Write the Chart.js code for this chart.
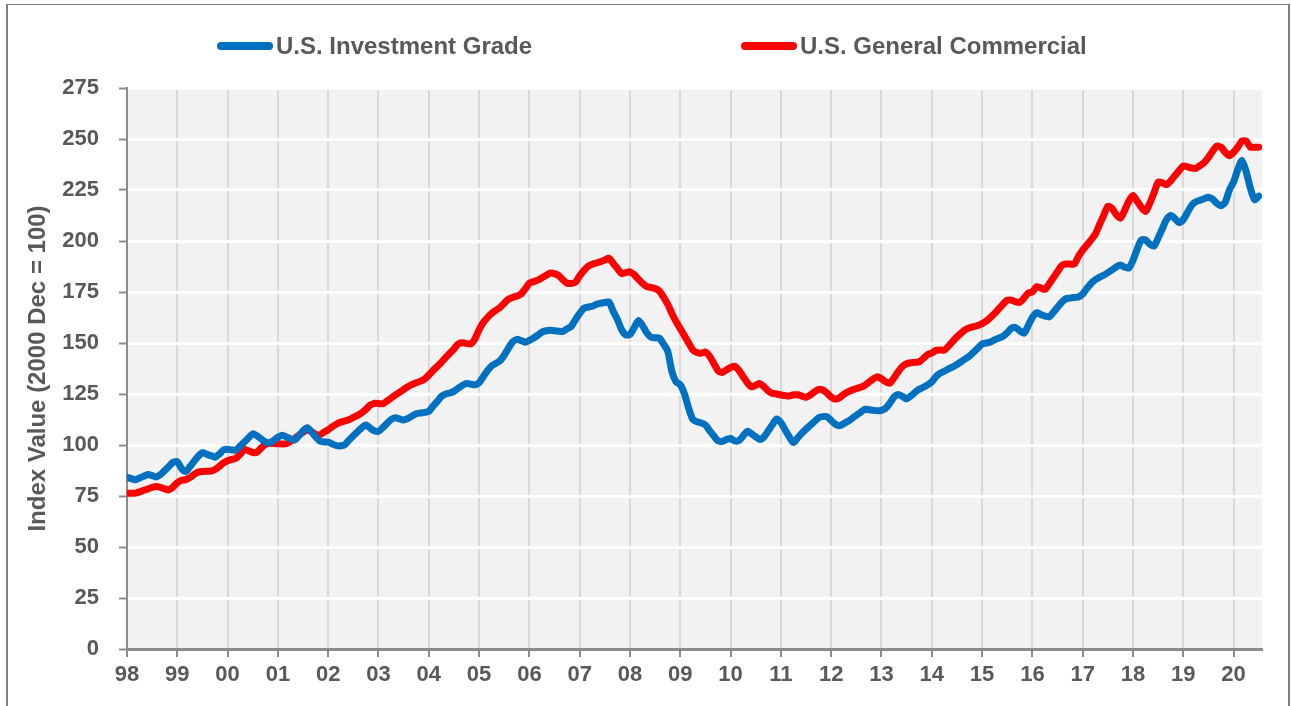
<!DOCTYPE html>
<html>
<head>
<meta charset="utf-8">
<script src="https://cdn.jsdelivr.net/npm/chart.js@4.4.1/dist/chart.umd.min.js"></script>
<style>
  html, body { margin: 0; padding: 0; background: #ffffff; }
  #wrap { position: relative; width: 1291px; height: 706px; overflow: hidden; }
  #frame { position: absolute; left: 6px; top: 4px; width: 1284px; height: 720px;
           border-left: 2px solid #7f7f7f; border-top: 1px solid #7f7f7f; border-right: 2px solid #7f7f7f; box-sizing: border-box; }
  canvas { position: absolute; left: 0; top: 0; }
</style>
</head>
<body>
<div id="wrap">
  <div id="frame"></div>
  <canvas id="c" width="1291" height="706"></canvas>
</div>
<script>
// Monthly index values, Jan 1998 .. Jul 2020
const startYear = 1998;
const seriesNames = ["U.S. Investment Grade", "U.S. General Commercial"];
const investmentGrade = [
  84.2, 83.5, 83.0, 83.8, 84.7, 85.5, 85.0, 84.3, 85.5, 87.5, 89.5, 91.5,
  91.8, 88.5, 87.0, 89.3, 92.0, 94.5, 96.2, 95.5, 94.8, 94.0, 95.5, 97.5,
  97.9, 97.6, 97.5, 99.5, 101.5, 103.5, 105.5, 104.5, 103.0, 101.5, 101.1, 102.3,
  103.8, 104.8, 104.0, 103.0, 102.5, 104.5, 107.0, 108.5, 106.5, 104.0, 102.0, 101.5,
  101.4, 100.5, 99.7, 99.6, 100.2, 102.5, 104.5, 106.5, 108.5, 109.8, 108.3, 107.0,
  106.7, 108.5, 110.5, 112.5, 113.4, 112.8, 112.2, 113.0, 114.2, 115.3, 115.7, 116.0,
  116.5, 119.0, 121.3, 123.8, 125.0, 125.5, 126.3, 127.8, 129.2, 130.2, 129.8, 129.5,
  130.5, 133.5, 136.5, 138.8, 140.0, 141.3, 144.0, 147.5, 150.5, 151.8, 151.2, 150.4,
  151.3, 152.5, 153.8, 155.3, 156.0, 156.3, 156.0, 155.8, 155.7, 157.0, 158.2, 161.5,
  164.5, 167.0, 167.6, 168.0, 169.0, 169.5, 169.9, 170.0, 165.5, 161.5, 156.5, 154.0,
  154.2, 157.5, 161.0, 158.5, 155.0, 152.8, 152.6, 152.4, 149.5, 146.0, 136.0, 131.0,
  129.5, 125.0, 118.0, 112.5, 111.4, 110.8, 109.8, 107.0, 104.5, 102.0, 101.8, 102.7,
  103.2, 102.0, 102.2, 104.5, 106.7, 105.5, 104.0, 102.7, 104.0, 107.0, 110.0, 112.8,
  111.0, 107.5, 104.0, 101.2, 103.5, 105.8, 107.8, 109.6, 111.5, 113.4, 113.9, 113.9,
  112.0, 110.2, 109.5, 110.5, 111.6, 113.0, 114.6, 116.0, 117.5, 117.3, 117.0, 116.8,
  117.0, 118.0, 120.5, 123.5, 124.7, 123.8, 122.6, 124.0, 125.8, 127.3, 128.3, 129.5,
  131.0, 133.5, 135.2, 136.2, 137.3, 138.3, 139.5, 140.8, 142.2, 143.6, 145.5, 147.5,
  149.5, 150.0, 150.5, 151.6, 152.4, 153.3, 155.0, 157.2, 157.6, 156.0, 154.8, 158.5,
  162.5, 164.8, 164.0, 163.2, 162.8, 165.0, 167.5, 170.0, 171.7, 172.0, 172.3, 172.6,
  174.0, 176.8, 179.2, 181.0, 182.2, 183.2, 184.5, 185.8, 187.3, 188.2, 187.2, 186.8,
  190.5, 196.0, 200.5, 200.5, 198.5, 197.5, 201.5, 206.0, 210.5, 212.5, 211.0, 209.0,
  210.5, 214.0, 217.5, 219.2, 220.0, 220.7, 221.5, 220.5, 218.5, 217.3, 219.0, 225.0,
  229.0, 235.0, 239.5, 234.0, 226.0, 220.3, 222.0
];
const generalCommercial = [
  76.3, 76.3, 76.4, 77.0, 77.8, 78.5, 79.2, 79.6, 79.2, 78.5, 78.0, 79.5,
  81.5, 82.7, 83.0, 84.0, 85.6, 86.7, 87.0, 87.1, 87.2, 88.0, 89.5, 91.2,
  92.3, 93.0, 93.5, 95.5, 97.8, 97.2, 96.3, 96.5, 98.5, 100.3, 100.8, 100.7,
  100.6, 100.5, 100.6, 101.8, 103.2, 104.8, 106.3, 107.3, 106.5, 105.3, 105.0, 106.3,
  107.5, 109.0, 110.3, 111.2, 111.8, 112.5, 113.5, 114.5, 115.8, 117.5, 119.5, 120.4,
  120.3, 120.2, 121.5, 123.0, 124.5, 125.8, 127.2, 128.6, 129.7, 130.5, 131.3, 132.3,
  134.3, 136.5, 138.5, 140.5, 142.8, 145.0, 147.0, 149.5, 150.1, 149.8, 149.5, 152.0,
  156.5, 160.0, 162.5, 164.5, 166.0, 167.5, 169.5, 171.5, 172.3, 173.0, 174.0, 176.5,
  179.3, 180.1, 180.8, 182.0, 183.2, 184.3, 184.0, 183.0, 181.0, 179.3, 179.2, 179.8,
  183.0, 185.5, 187.6, 188.6, 189.2, 189.9, 190.7, 191.5, 189.0, 186.5, 184.0, 184.5,
  184.9, 183.5, 181.3, 179.2, 177.6, 177.2, 176.7, 175.5, 172.5, 169.0, 164.5, 160.5,
  157.0, 153.5, 150.0, 146.6, 145.3, 145.0, 145.6, 143.5, 140.0, 136.5, 135.5, 136.8,
  138.0, 138.6, 136.5, 133.5, 130.5, 128.5, 129.3, 130.1, 128.5, 126.5, 125.3, 125.0,
  124.5, 124.2, 124.0, 124.6, 124.6, 124.0, 123.4, 124.5, 126.0, 127.3, 127.0, 125.5,
  123.5, 122.5, 123.2, 124.8, 126.0, 127.0, 127.6, 128.3, 129.2, 130.8, 132.3, 133.4,
  132.5, 131.0, 130.3, 133.0, 136.0, 138.5, 139.8, 140.3, 140.5, 140.8, 142.5, 144.3,
  145.1, 146.4, 146.6, 146.5, 148.5, 150.8, 153.0, 154.8, 156.5, 157.5, 158.0, 158.6,
  159.5, 160.7, 162.5, 164.5, 166.8, 169.0, 171.0, 171.0, 170.2, 169.9, 172.0, 174.5,
  175.0, 177.6, 177.0, 176.3, 179.0, 182.0, 185.0, 188.0, 188.7, 188.7, 188.7, 192.5,
  195.5, 198.0, 200.5, 203.3, 208.0, 212.5, 217.0, 216.0, 213.0, 211.2, 215.0, 219.5,
  222.3, 219.5, 216.5, 214.5, 218.5, 223.5, 228.8, 228.5, 227.6, 229.5, 232.0, 234.5,
  236.8, 236.3, 235.8, 235.6, 237.0, 238.5, 241.0, 244.0, 246.5, 246.0, 243.5, 241.8,
  243.5, 246.0, 249.0, 249.0, 246.0, 246.0, 246.0
];
const yearTicks = [1998,1999,2000,2001,2002,2003,2004,2005,2006,2007,2008,2009,2010,2011,2012,2013,2014,2015,2016,2017,2018,2019,2020];
const tickLabels = ["98","99","00","01","02","03","04","05","06","07","08","09","10","11","12","13","14","15","16","17","18","19","20"];
const yTicks = [0,25,50,75,100,125,150,175,200,225,250,275];
const yTitle = "Index Value (2000 Dec = 100)";
const colors = ["#0070c0", "#ff0000"];

const toPoints = arr => arr.map((v, i) => ({ x: startYear + i / 12, y: v }));
const FONT = "'Liberation Sans', Arial, sans-serif";
const GRAY = "#595959";

const plotBg = {
  id: 'plotBg',
  beforeDraw(chart) {
    const { ctx, chartArea: a } = chart;
    ctx.save();
    ctx.fillStyle = '#f2f2f2';
    ctx.fillRect(a.left, a.top, a.right - a.left, a.bottom - a.top);
    ctx.restore();
  }
};

const customLegend = {
  id: 'customLegend',
  afterDraw(chart) {
    const { ctx } = chart;
    const items = [{ x: 217 }, { x: 741 }];
    ctx.save();
    ctx.font = "bold 24px " + FONT;
    ctx.textBaseline = 'middle';
    chart.data.datasets.forEach((ds, i) => {
      const x = items[i].x, y = 46;
      ctx.strokeStyle = ds.borderColor;
      ctx.lineWidth = 8;
      ctx.lineCap = 'round';
      ctx.beginPath();
      ctx.moveTo(x + 4, y);
      ctx.lineTo(x + 52, y);
      ctx.stroke();
      ctx.fillStyle = GRAY;
      ctx.fillText(ds.label, x + 59, y + 1);
    });
    ctx.restore();
  }
};

new Chart(document.getElementById('c'), {
  type: 'line',
  data: {
    datasets: [
      { label: seriesNames[0], data: toPoints(investmentGrade), borderColor: colors[0], backgroundColor: colors[0] },
      { label: seriesNames[1], data: toPoints(generalCommercial), borderColor: colors[1], backgroundColor: colors[1] }
    ]
  },
  options: {
    responsive: false,
    animation: false,
    layout: { padding: { top: 88, right: 29, left: 0, bottom: 0 } },
    elements: {
      point: { radius: 0, hoverRadius: 0 },
      line: { borderWidth: 7, tension: 0.25, borderCapStyle: 'round', borderJoinStyle: 'round', fill: false }
    },
    plugins: { legend: { display: false }, tooltip: { enabled: false } },
    scales: {
      x: {
        type: 'linear',
        min: 1998,
        max: 2020.565,
        afterFit(s) { s.height = 57; },
        afterBuildTicks(s) { s.ticks = yearTicks.map(v => ({ value: v })); },
        ticks: {
          autoSkip: false,
          maxRotation: 0,
          padding: 5,
          color: GRAY,
          font: { family: FONT, size: 22, weight: 'bold' },
          callback: (v) => tickLabels[yearTicks.indexOf(v)] ?? ''
        },
        grid: { color: '#d9d9d9', lineWidth: 2, tickColor: '#8c8c8c', tickWidth: 2, tickLength: 8 },
        border: { color: '#8c8c8c', width: 3 }
      },
      y: {
        min: 0,
        max: 275,
        afterFit(s) { s.width = 127; },
        afterBuildTicks(s) { s.ticks = yTicks.map(v => ({ value: v })); },
        ticks: {
          padding: 20,
          color: GRAY,
          font: { family: FONT, size: 22, weight: 'bold' }
        },
        grid: { color: '#ffffff', lineWidth: 3, tickColor: '#8c8c8c', tickWidth: 2, tickLength: 8 },
        border: { color: '#8c8c8c', width: 2 },
        title: {
          display: true,
          text: yTitle,
          color: GRAY,
          font: { family: FONT, size: 24, weight: 'bold' },
          padding: { top: 24, bottom: 0 }
        }
      }
    }
  },
  plugins: [plotBg, customLegend]
});
</script>
</body>
</html>
